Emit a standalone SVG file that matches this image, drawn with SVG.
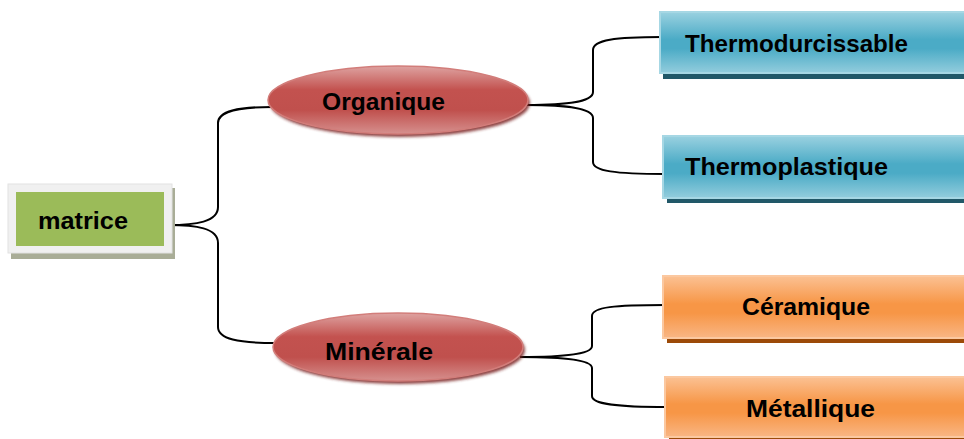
<svg xmlns="http://www.w3.org/2000/svg" width="964" height="439" viewBox="0 0 964 439">
  <defs>
    <linearGradient id="gRed" x1="0" y1="0" x2="0" y2="1">
      <stop offset="0" stop-color="#dea3a1"/>
      <stop offset="0.35" stop-color="#c3524f"/>
      <stop offset="0.65" stop-color="#c0504d"/>
      <stop offset="1" stop-color="#d6908e"/>
    </linearGradient>
    <linearGradient id="gBlue" x1="0" y1="0" x2="0" y2="1">
      <stop offset="0" stop-color="#9ad1e0"/>
      <stop offset="0.45" stop-color="#4babc6"/>
      <stop offset="0.6" stop-color="#4babc6"/>
      <stop offset="1" stop-color="#93cddd"/>
    </linearGradient>
    <linearGradient id="gOrange" x1="0" y1="0" x2="0" y2="1">
      <stop offset="0" stop-color="#fbc193"/>
      <stop offset="0.45" stop-color="#f79646"/>
      <stop offset="0.6" stop-color="#f79646"/>
      <stop offset="1" stop-color="#f9b684"/>
    </linearGradient>
    <filter id="soft" x="-10%" y="-30%" width="120%" height="160%">
      <feGaussianBlur stdDeviation="1.5"/>
    </filter>
  </defs>
  <style>
    .lbl { font-family: "Liberation Sans", Arial, sans-serif; font-weight: bold; font-size: 24px; fill: #000; }
    .wire { fill: none; stroke: #000; stroke-width: 2; }
    .oval { fill: url(#gRed); stroke: #d27d7a; stroke-width: 1.5; }
    .ovalShadow { fill: #7a2422; opacity: 0.85; filter: url(#soft); }
    .blue { fill: url(#gBlue); stroke: #a6d7e4; stroke-width: 2; }
    .blueShadow { fill: #215868; }
    .orange { fill: url(#gOrange); stroke: #fbc8a0; stroke-width: 2; }
    .orangeShadow { fill: #9c4a08; }
  </style>

  <rect width="964" height="439" fill="#ffffff"/>

  <!-- connectors -->
  <g id="connectors">
    <path class="wire" d="M168,225 C196,225 218,222 218,207 L218,123 C218,111 238,107 272,107"/>
    <path class="wire" d="M168,225 C196,225 218,228 218,243 L218,327 C218,339 238,343 276,343"/>
    <path class="wire" d="M526,105 C562,105 593,103 593,92 L593,50 C593,40 615,37 662,37"/>
    <path class="wire" d="M526,105 C562,105 593,107 593,118 L593,162 C593,171 615,174 665,174"/>
    <path class="wire" d="M520,357 C558,357 592,355 592,346 L592,316 C592,307 615,305 665,305"/>
    <path class="wire" d="M520,357 C558,357 592,359 592,368 L592,396 C592,404 615,407 667,407"/>
  </g>

  <!-- root -->
  <g id="matrice">
    <rect x="11" y="188" width="164" height="71" fill="#a9ad97"/>
    <rect x="8" y="184" width="164" height="69" fill="#f0f0f0" stroke="#e2e2e2" stroke-width="1"/>
    <rect x="16" y="192" width="148" height="54" fill="#9bbb59"/>
    <text class="lbl" x="38" y="229" textLength="90" lengthAdjust="spacingAndGlyphs">matrice</text>
  </g>

  <!-- second level -->
  <g id="organique">
    <ellipse class="ovalShadow" cx="400" cy="103" rx="130" ry="34"/>
    <ellipse class="oval" cx="398" cy="100" rx="130" ry="34"/>
    <text class="lbl" x="322" y="110" textLength="123" lengthAdjust="spacingAndGlyphs">Organique</text>
  </g>
  <g id="minerale">
    <ellipse class="ovalShadow" cx="400" cy="350" rx="125" ry="34"/>
    <ellipse class="oval" cx="398" cy="347" rx="125" ry="34"/>
    <text class="lbl" x="325" y="360" textLength="108" lengthAdjust="spacingAndGlyphs">Minérale</text>
  </g>

  <!-- leaves -->
  <g id="thermodurcissable">
    <rect class="blueShadow" x="663" y="16" width="320" height="63"/>
    <rect class="blue" x="660" y="12" width="320" height="61"/>
    <text class="lbl" x="685" y="52" textLength="223" lengthAdjust="spacingAndGlyphs">Thermodurcissable</text>
  </g>
  <g id="thermoplastique">
    <rect class="blueShadow" x="667" y="140" width="320" height="63"/>
    <rect class="blue" x="663" y="136" width="320" height="62"/>
    <text class="lbl" x="685" y="175" textLength="203" lengthAdjust="spacingAndGlyphs">Thermoplastique</text>
  </g>
  <g id="ceramique">
    <rect class="orangeShadow" x="667" y="280" width="320" height="63"/>
    <rect class="orange" x="663" y="276" width="320" height="62"/>
    <text class="lbl" x="742" y="315" textLength="128" lengthAdjust="spacingAndGlyphs">Céramique</text>
  </g>
  <g id="metallique">
    <rect class="orangeShadow" x="669" y="381" width="320" height="63"/>
    <rect class="orange" x="665" y="377" width="320" height="60"/>
    <text class="lbl" x="746" y="417" textLength="129" lengthAdjust="spacingAndGlyphs">Métallique</text>
  </g>
</svg>
